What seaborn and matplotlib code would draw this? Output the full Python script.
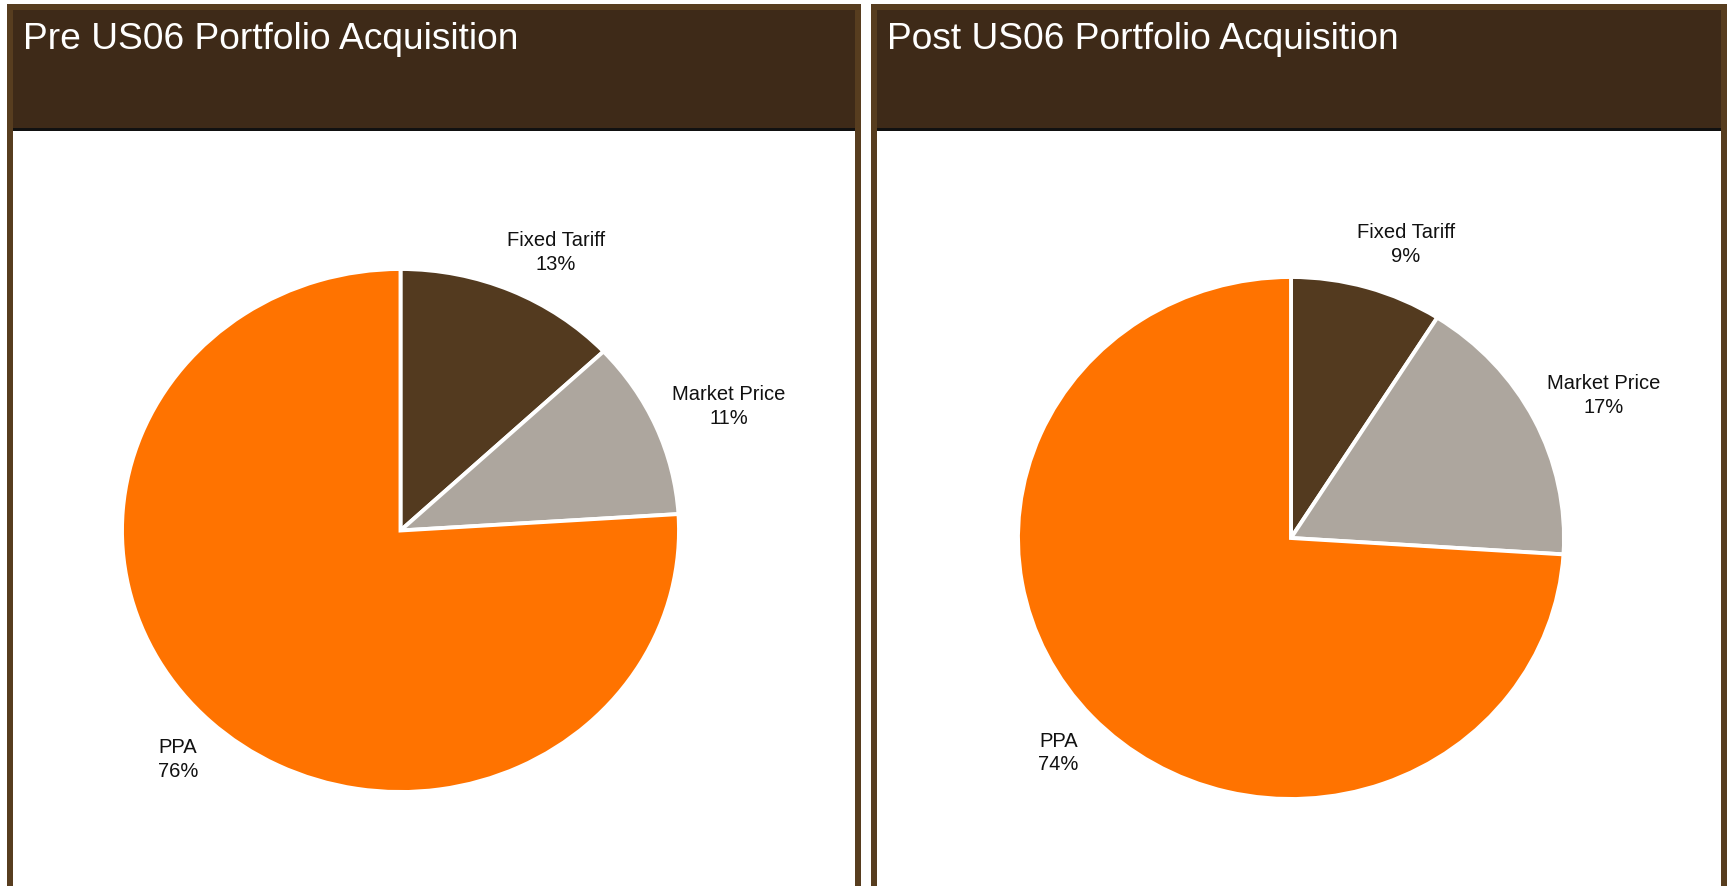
import matplotlib
matplotlib.use("Agg")
import numpy as np
import matplotlib.pyplot as plt
import seaborn as sns
from matplotlib.patches import Rectangle

# ---- data ----
panel_titles = ["Pre US06 Portfolio Acquisition", "Post US06 Portfolio Acquisition"]
categories = ["Fixed Tariff", "Market Price", "PPA"]
pre_values = [13, 11, 76]
post_values = [9, 17, 74]
slice_colors = ["#533a1f", "#ada69e", "#ff7300"]

# ---- style ----
sns.set_theme(style="white")
plt.rcParams["font.family"] = ["Liberation Sans", "DejaVu Sans"]

border_color = "#573d1f"
header_color = "#3e2a18"

# label placement style (radius and angular nudge per slice, Excel best-fit look)
label_radius = [1.20, 1.27, 1.185]
label_angle_nudge = [-4.3, -1.5, 0.8]

W, H = 1733, 886
fig = plt.figure(figsize=(W / 100, H / 100), dpi=100)
fig.patch.set_facecolor("white")

# background axes in pixel coordinates for the panel frames
bg = fig.add_axes([0, 0, 1, 1])
bg.set_xlim(0, W)
bg.set_ylim(H, 0)
bg.axis("off")

panels = [(7, 861), (871, 1727)]
bw = 6
top = 4
header_bottom = 128
for (x0, x1), title in zip(panels, panel_titles):
    bg.add_patch(Rectangle((x0, top), x1 - x0, H + 20, facecolor=border_color, edgecolor="none"))
    bg.add_patch(Rectangle((x0 + bw, top + bw), x1 - x0 - 2 * bw, H + 20, facecolor="white", edgecolor="none"))
    bg.add_patch(Rectangle((x0 + bw, top + bw), x1 - x0 - 2 * bw, header_bottom - top - bw,
                           facecolor=header_color, edgecolor="none"))
    bg.add_patch(Rectangle((x0 + bw, header_bottom), x1 - x0 - 2 * bw, 2.5, facecolor="#111111", edgecolor="none"))
    bg.text(x0 + 16, 49, title, color="white", fontsize=26.7, ha="left", va="baseline")

# ---- pies ----
pie_specs = [(400.5, 530.5, 278.5, 261.5), (1291, 538, 273, 261)]
lim = 1.5
for vals, (cx, cy, rx, ry) in zip([pre_values, post_values], pie_specs):
    ax = fig.add_axes([(cx - lim * rx) / W, (H - cy - lim * ry) / H,
                       2 * lim * rx / W, 2 * lim * ry / H])
    ax.patch.set_alpha(0)
    labels = [f"{c}\n{v}%" for c, v in zip(categories, vals)]
    wedges, texts = ax.pie(
        vals, labels=labels, colors=slice_colors, startangle=90, counterclock=False,
        labeldistance=1.22,
        wedgeprops=dict(edgecolor="white", linewidth=2.8),
        textprops=dict(fontsize=14.5, color="#111111"),
    )
    ax.set_aspect("auto")
    ax.set_xlim(-lim, lim)
    ax.set_ylim(-lim, lim)
    ax.axis("off")
    for w, t, r, da in zip(wedges, texts, label_radius, label_angle_nudge):
        mid = np.deg2rad((w.theta1 + w.theta2) / 2 + da)
        t.set_position((r * np.cos(mid), r * np.sin(mid)))
        t.set_ha("center")
        t.set_va("center")
        t.set_multialignment("center")
        t.set_linespacing(1.3)

fig.savefig("out.png", dpi=100)
